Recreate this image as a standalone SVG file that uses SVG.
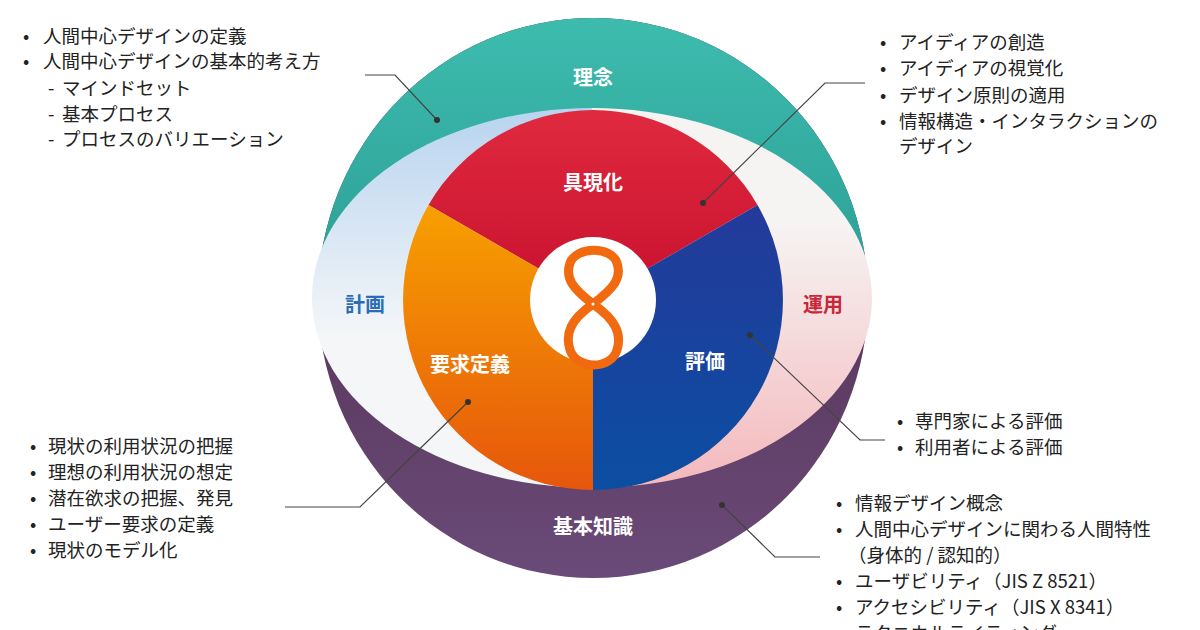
<svg xmlns="http://www.w3.org/2000/svg" width="1200" height="630" viewBox="0 0 1200 630">
<defs>
<linearGradient id="teal" x1="0" y1="0" x2="0" y2="1"><stop offset="0" stop-color="#3dbcae"/><stop offset="1" stop-color="#1a7f7b"/></linearGradient>
<linearGradient id="purp" x1="0" y1="0" x2="0" y2="1"><stop offset="0" stop-color="#4a2540"/><stop offset="1" stop-color="#6a4a78"/></linearGradient>
<linearGradient id="lb" x1="0" y1="0" x2="0" y2="1"><stop offset="0" stop-color="#b8d4f0"/><stop offset="0.6" stop-color="#f4f6f8"/></linearGradient>
<linearGradient id="rp" x1="0" y1="0" x2="0" y2="1"><stop offset="0.3" stop-color="#f6f4f3"/><stop offset="1" stop-color="#f4b8bc"/></linearGradient>
<linearGradient id="red" x1="0" y1="0" x2="0" y2="1"><stop offset="0" stop-color="#e02a3e"/><stop offset="1" stop-color="#c8102e"/></linearGradient>
<linearGradient id="blu" x1="0" y1="0" x2="0" y2="1"><stop offset="0" stop-color="#243a9a"/><stop offset="1" stop-color="#0b4ea2"/></linearGradient>
<linearGradient id="org" x1="0" y1="0" x2="0" y2="1"><stop offset="0" stop-color="#f7a000"/><stop offset="1" stop-color="#e6560c"/></linearGradient>
<clipPath id="top"><rect x="0" y="0" width="1200" height="300"/></clipPath>
<clipPath id="lh"><rect x="0" y="0" width="592" height="630"/></clipPath>
<clipPath id="rh"><rect x="592" y="0" width="608" height="630"/></clipPath>
<style>
.t{font-family:"Noto Sans CJK JP","Liberation Sans",sans-serif;font-size:18.5px;fill:#222}
.l{font-family:"Noto Sans CJK JP","Liberation Sans",sans-serif;font-size:20px;font-weight:bold;text-anchor:middle}
.w{fill:#fff}
.c{fill:none;stroke:#444;stroke-width:1.2}
</style>
</defs>
<g id="base">
<ellipse cx="593" cy="298" rx="275" ry="280" fill="url(#purp)"/>
<ellipse cx="593" cy="298" rx="275" ry="280" fill="url(#teal)" clip-path="url(#top)"/>
</g>
<g id="inner">
<ellipse cx="592" cy="298" rx="280" ry="190" fill="url(#lb)" clip-path="url(#lh)"/>
<ellipse cx="592" cy="298" rx="280" ry="190" fill="url(#rp)" clip-path="url(#rh)"/>
</g>
<g id="gugenka"><path d="M593,300 L428.5,205 A190,190 0 0 1 757.5,205 Z" fill="url(#red)"/></g>
<g id="hyoka"><path d="M593,300 L757.5,205 A190,190 0 0 1 593,490 Z" fill="url(#blu)"/></g>
<g id="yokyu"><path d="M593,300 L593,490 A190,190 0 0 1 428.5,205 Z" fill="url(#org)"/></g>
<g id="logo">
<circle cx="593" cy="300" r="63" fill="#fff"/>
<path d="M593,304 C572,288 565,278 570,263 C576,246 612,246 617,263 C622,278 614,288 593,304 C570,320 565,334 570,350 C577,370 611,370 617,350 C622,334 616,320 593,304 Z" fill="none" stroke="#f26a10" stroke-width="9" stroke-linejoin="round"/>
<circle cx="593" cy="304" r="1.5" fill="#fff"/>
</g>
<g id="labels">
<text class="l w" x="593" y="85">理念</text>
<text class="l" x="365" y="312" fill="#2a6db5">計画</text>
<text class="l" x="823" y="312" fill="#c8283a">運用</text>
<text class="l w" x="593" y="534">基本知識</text>
<text class="l w" x="593" y="190">具現化</text>
<text class="l w" x="470" y="372">要求定義</text>
<text class="l w" x="705" y="369">評価</text>
</g>
<g id="connectors">
<polyline class="c" points="365,75 395,75 437,120"/><circle cx="437" cy="120" r="3" fill="#333"/>
<polyline class="c" points="865,83 825,83 703,203"/><circle cx="703" cy="203" r="3" fill="#333"/>
<polyline class="c" points="885,440 860,440 750,335"/><circle cx="750" cy="335" r="3" fill="#333"/>
<polyline class="c" points="285,507 360,507 468,402"/><circle cx="468" cy="402" r="3" fill="#333"/>
<polyline class="c" points="820,557 775,557 722,505"/><circle cx="722" cy="505" r="3" fill="#333"/>
</g>
<g id="texts" class="t">
<text class="t" y="43"><tspan x="23">•</tspan><tspan x="43">人間中心デザインの定義</tspan></text>
<text class="t" y="68"><tspan x="23">•</tspan><tspan x="43">人間中心デザインの基本的考え方</tspan></text>
<text class="t" y="95"><tspan x="48">-</tspan><tspan x="62">マインドセット</tspan></text>
<text class="t" y="121"><tspan x="48">-</tspan><tspan x="62">基本プロセス</tspan></text>
<text class="t" y="146"><tspan x="48">-</tspan><tspan x="62">プロセスのバリエーション</tspan></text>
<text class="t" y="49"><tspan x="880">•</tspan><tspan x="899">アイディアの創造</tspan></text>
<text class="t" y="75"><tspan x="880">•</tspan><tspan x="899">アイディアの視覚化</tspan></text>
<text class="t" y="102"><tspan x="880">•</tspan><tspan x="899">デザイン原則の適用</tspan></text>
<text class="t" y="128"><tspan x="880">•</tspan><tspan x="899">情報構造・インタラクションの</tspan></text>
<text class="t" x="899" y="153">デザイン</text>
<text class="t" y="428"><tspan x="897">•</tspan><tspan x="915">専門家による評価</tspan></text>
<text class="t" y="454"><tspan x="897">•</tspan><tspan x="915">利用者による評価</tspan></text>
<text class="t" y="453"><tspan x="30">•</tspan><tspan x="48">現状の利用状況の把握</tspan></text>
<text class="t" y="479"><tspan x="30">•</tspan><tspan x="48">理想の利用状況の想定</tspan></text>
<text class="t" y="505"><tspan x="30">•</tspan><tspan x="48">潜在欲求の把握、発見</tspan></text>
<text class="t" y="531"><tspan x="30">•</tspan><tspan x="48">ユーザー要求の定義</tspan></text>
<text class="t" y="557"><tspan x="30">•</tspan><tspan x="48">現状のモデル化</tspan></text>
<text class="t" y="510"><tspan x="836">•</tspan><tspan x="855">情報デザイン概念</tspan></text>
<text class="t" y="536"><tspan x="836">•</tspan><tspan x="855">人間中心デザインに関わる人間特性</tspan></text>
<text class="t" x="848" y="562">（身体的 / 認知的）</text>
<text class="t" y="588"><tspan x="836">•</tspan><tspan x="855">ユーザビリティ（JIS Z 8521）</tspan></text>
<text class="t" y="614"><tspan x="836">•</tspan><tspan x="855">アクセシビリティ（JIS X 8341）</tspan></text>
<text class="t" y="640"><tspan x="836">•</tspan><tspan x="855">テクニカルライティング</tspan></text>
</g>
</svg>
